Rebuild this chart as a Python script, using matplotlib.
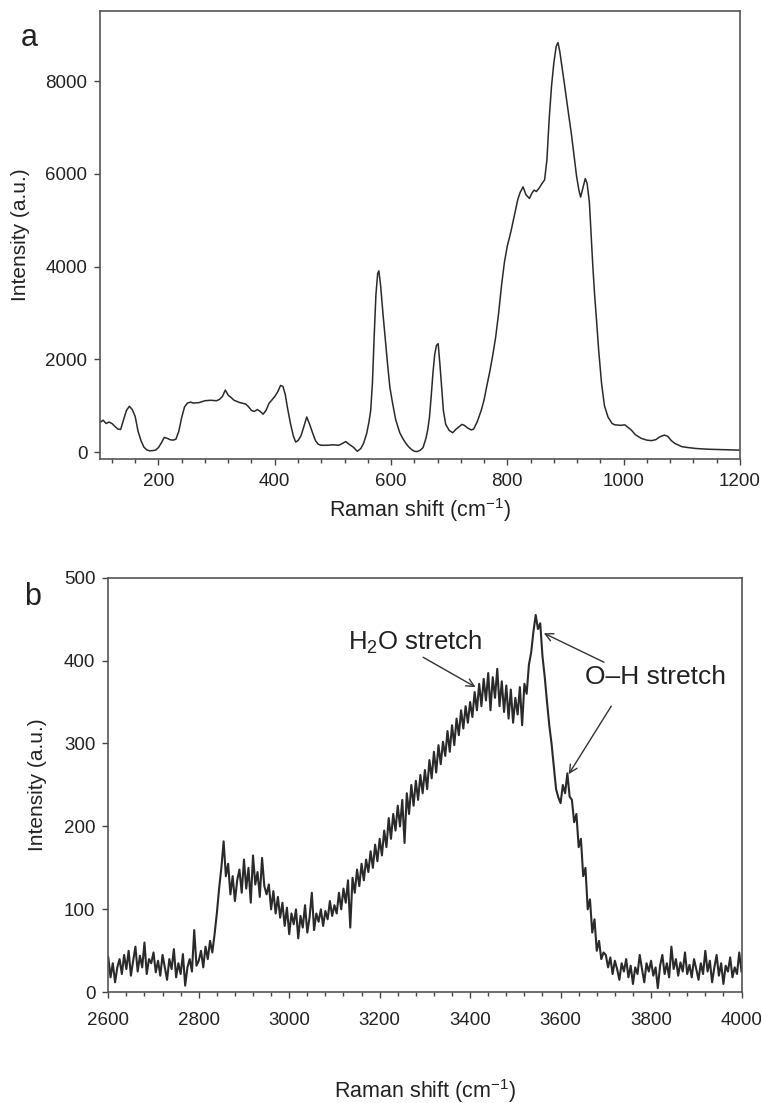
import numpy as np
import matplotlib.pyplot as plt
from matplotlib.ticker import MultipleLocator

plt.rcParams["font.family"] = ["Liberation Sans", "DejaVu Sans"]
plt.rcParams["mathtext.fontset"] = "custom"
plt.rcParams["mathtext.rm"] = "Liberation Sans"
plt.rcParams["mathtext.it"] = "Liberation Sans:italic"
plt.rcParams["mathtext.bf"] = "Liberation Sans:bold"
plt.rcParams["text.color"] = "#222222"
plt.rcParams["axes.labelcolor"] = "#222222"
plt.rcParams["xtick.color"] = "#444444"
plt.rcParams["ytick.color"] = "#444444"
plt.rcParams["xtick.labelcolor"] = "#222222"
plt.rcParams["ytick.labelcolor"] = "#222222"

# panel a: low-wavenumber spectrum
shift_a = [100, 105, 110, 115, 120, 125, 130, 135, 140, 145, 150, 155, 160, 165, 170,
           175, 180, 185, 190, 195, 200, 205, 210, 215, 220, 225, 230, 235, 240, 245,
           250, 255, 260, 270, 280, 290, 300, 305, 310, 315, 320, 325, 330, 340, 350,
           355, 360, 365, 370, 375, 380, 385, 390, 400, 405, 410, 414, 418, 422, 427,
           432, 436, 440, 445, 450, 455, 460, 465, 470, 475, 480, 490, 500, 510, 515,
           522, 528, 535, 542, 548, 553, 558, 562, 565, 568, 571, 574, 577, 579, 582,
           586, 590, 594, 598, 602, 608, 615, 620, 625, 630, 635, 640, 645, 650, 655,
           660, 663, 666, 669, 672, 675, 678, 681, 684, 687, 690, 694, 700, 706, 712,
           718, 722, 726, 732, 738, 742, 748, 755, 760, 765, 770, 775, 780, 785, 790,
           795, 800, 806, 812, 818, 822, 827, 832, 838, 842, 846, 850, 855, 860, 864,
           868, 872, 876, 880, 884, 887, 890, 894, 898, 904, 910, 915, 919, 923, 926,
           930, 934, 937, 941, 944, 947, 950, 953, 957, 962, 967, 973, 980, 985, 995,
           1002, 1008, 1013, 1020, 1030, 1040, 1048, 1055, 1062, 1070, 1076, 1082, 1088,
           1095, 1100, 1111, 1125, 1145, 1170, 1200]
intensity_a = [650, 690, 620, 650, 620, 560, 500, 490, 700, 900, 990, 920, 770, 450, 250,
               110, 50, 30, 35, 45, 100, 200, 320, 300, 270, 260, 280, 450, 750, 980,
               1060, 1080, 1060, 1070, 1110, 1120, 1110, 1140, 1200, 1340, 1230, 1180, 1120, 1070, 1040,
               980, 900, 880, 920, 880, 820, 900, 1050, 1200, 1300, 1440, 1420, 1250, 950, 620,
               350, 220, 250, 350, 550, 760, 600, 420, 250, 170, 150, 150, 160, 150, 180,
               230, 170, 110, 20, 80, 200, 400, 650, 900, 1500, 2500, 3400, 3850, 3910, 3600,
               3000, 2450, 1900, 1400, 1100, 700, 420, 300, 200, 120, 60, 20, 15, 40, 100,
               300, 480, 750, 1200, 1700, 2100, 2300, 2340, 1900, 1400, 900, 600, 470, 420, 500,
               560, 600, 580, 520, 480, 500, 650, 900, 1130, 1450, 1750, 2100, 2490, 3000, 3600,
               4100, 4450, 4750, 5100, 5450, 5600, 5720, 5550, 5470, 5580, 5650, 5620, 5700, 5800, 5870,
               6300, 7200, 7900, 8400, 8750, 8830, 8650, 8300, 7950, 7400, 6870, 6350, 5950, 5650, 5500,
               5700, 5900, 5800, 5400, 4700, 4000, 3400, 2900, 2200, 1480, 1000, 760, 620, 590, 580,
               590, 530, 480, 380, 300, 260, 250, 270, 330, 370, 340, 250, 190,
               150, 120, 100, 80, 65, 55, 45]

# panel b: high-wavenumber spectrum, 5 cm-1 steps from 2600 to 4000
shift_b = np.arange(2600, 4001, 5)
intensity_b = [
    42, 18, 35, 12, 30, 40, 22, 45, 28, 50, 20, 38, 55, 25, 44, 30, 60, 22, 40, 35,
    48, 24, 38, 20, 45, 30, 15, 40, 28, 52, 18, 35, 22, 46, 8, 30, 40, 25, 75, 32,
    38, 50, 30, 55, 40, 62, 48, 70, 95, 125, 150, 182, 140, 155, 118, 140, 110, 135, 148, 120,
    160, 125, 150, 108, 165, 130, 145, 115, 162, 128, 118, 130, 100, 122, 95, 115, 90, 108, 80, 102,
    70, 95, 82, 100, 65, 92, 78, 105, 72, 90, 120, 75, 95, 85, 100, 80, 98, 88, 110, 92,
    105, 95, 120, 100, 125, 108, 135, 78, 138, 120, 148, 128, 155, 135, 160, 145, 170, 150, 178, 158,
    185, 165, 195, 175, 210, 185, 215, 195, 225, 200, 232, 180, 240, 215, 250, 225, 255, 232, 262, 240,
    268, 245, 280, 258, 290, 265, 298, 275, 302, 285, 315, 290, 322, 298, 330, 310, 340, 318, 345, 325,
    350, 332, 362, 340, 372, 345, 378, 352, 385, 340, 380, 355, 390, 345, 375, 338, 370, 330, 365, 325,
    355, 335, 368, 322, 372, 360, 395, 410, 435, 455, 438, 445, 405, 380, 350, 322, 300, 272, 245, 235,
    228, 250, 240, 264, 236, 232, 205, 215, 175, 185, 140, 150, 100, 112, 72, 88, 50, 62, 40, 48,
    45, 30, 42, 22, 38, 28, 15, 35, 25, 40, 18, 32, 10, 30, 22, 45, 28, 12, 35, 25,
    38, 20, 30, 5, 32, 45, 22, 35, 18, 55, 28, 40, 20, 36, 25, 48, 22, 33, 18, 40,
    28, 15, 35, 22, 50, 25, 38, 12, 30, 45, 20, 35, 10, 32, 25, 42, 18, 30, 22, 48, 25,
]

h2o_label = "H$_2$O stretch"
oh_label = "O\u2013H stretch"


fig = plt.figure(figsize=(7.62, 11.03), dpi=100)
ax1 = fig.add_axes([0.1316, 0.5839, 0.8395, 0.4061])
ax2 = fig.add_axes([0.1421, 0.1004, 0.8310, 0.3759])

line_kw = dict(color="#2a2a2a")
ax1.plot(shift_a, intensity_a, lw=1.1, **line_kw)
ax2.plot(shift_b, intensity_b, lw=1.5, **line_kw)

ax1.set_xlim(100, 1200)
ax1.set_ylim(-145, 9510)
ax1.xaxis.set_major_locator(MultipleLocator(200))
ax1.xaxis.set_minor_locator(MultipleLocator(40))
ax1.yaxis.set_major_locator(MultipleLocator(2000))

ax2.set_xlim(2600, 4000)
ax2.set_ylim(0, 500)
ax2.xaxis.set_major_locator(MultipleLocator(200))
ax2.xaxis.set_minor_locator(MultipleLocator(40))
ax2.yaxis.set_major_locator(MultipleLocator(100))

for ax in (ax1, ax2):
    for s in ax.spines.values():
        s.set_color("#555555")
        s.set_linewidth(1.2)
    ax.tick_params(which="major", direction="out", length=4.3, width=1.0, labelsize=13.5)
    ax.tick_params(which="minor", direction="out", length=3.0, width=1.0)
    ax.tick_params(axis="y", pad=5)
    ax.set_ylabel("Intensity (a.u.)", fontsize=15)
    ax.set_xlabel("Raman shift (cm$^{-1}$)", fontsize=15.5)

ax1.tick_params(axis="x", pad=6)
ax2.tick_params(axis="x", pad=10)
ax1.yaxis.set_label_coords(-0.110, 0.5)
ax2.yaxis.set_label_coords(-0.097, 0.5)
ax1.xaxis.set_label_coords(0.5, -0.082)
ax2.xaxis.set_label_coords(0.5, -0.205)

fig.text(0.039, 0.9655, "a", fontsize=22, ha="center", va="center")
fig.text(0.043, 0.459, "b", fontsize=22, ha="center", va="center")

arrow_kw = dict(arrowstyle="->", color="#333333", lw=1.0,
                shrinkA=0, shrinkB=0, mutation_scale=14)
ax2.text(3278, 413, h2o_label, fontsize=18.5, ha="center", va="baseline")
ax2.annotate("", xy=(3412, 368), xytext=(3296, 404), arrowprops=arrow_kw)
ax2.text(3810, 372, oh_label, fontsize=19, ha="center", va="baseline")
ax2.annotate("", xy=(3563, 433), xytext=(3696, 398), arrowprops=arrow_kw)
ax2.annotate("", xy=(3618, 263), xytext=(3712, 345), arrowprops=arrow_kw)

fig.savefig("out.png", dpi=100, facecolor="white")
